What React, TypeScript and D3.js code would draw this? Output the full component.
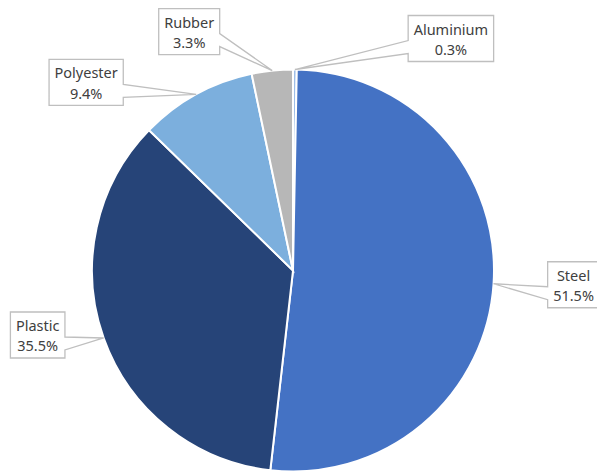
import React from "react";
import * as d3 from "d3";

const categories = ["Aluminium", "Steel", "Plastic", "Polyester", "Rubber"];
const shares = [0.3, 51.5, 35.5, 9.4, 3.3];
const valueLabels = ["0.3%", "51.5%", "35.5%", "9.4%", "3.3%"];
const colors = ["#9EBEE8", "#4472C4", "#264478", "#7CAFDD", "#B7B7B7"];

// where each callout box sits, relative to the point it points at
const calloutOffsets: [number, number][] = [
  [156, -31],
  [80, 1],
  [-66, -3],
  [-110, -12],
  [-83, -39],
];

const width = 597;
const height = 472;
const cx = 293;
const cy = 270.5;
const radius = 201;
const fontSize = 14.5;
const font = "Noto Sans";

function textWidth(s: string): number {
  const ctx = document.createElement("canvas").getContext("2d");
  if (!ctx) return s.length * 7;
  ctx.font = fontSize + "px '" + font + "'";
  return ctx.measureText(s).width;
}

function calloutPath(x0: number, y0: number, w: number, h: number, tx: number, ty: number) {
  const x1 = x0 + w, y1 = y0 + h;
  const mid = y0 + h / 2;
  const b0 = Math.min(mid + 2, y1 - 1);
  const b1 = Math.min(mid + 15, y1);
  if (tx < x0) {
    return `M${x0},${y0} L${x1},${y0} L${x1},${y1} L${x0},${y1} L${x0},${b1} L${tx},${ty} L${x0},${b0} Z`;
  }
  return `M${x0},${y0} L${x1},${y0} L${x1},${b0} L${tx},${ty} L${x1},${b1} L${x1},${y1} L${x0},${y1} Z`;
}

export default function App() {
  const pie = d3.pie<number>().sort(null).value((d) => d)(shares);
  const arc = d3.arc<d3.PieArcDatum<number>>().innerRadius(0).outerRadius(radius);

  return (
    <svg
      width={width}
      height={height}
      style={{ position: "absolute", left: 0, top: 0, background: "#fff" }}
      fontFamily={font}
      fontSize={fontSize}
    >
      <g transform={`translate(${cx},${cy})`}>
        {pie.map((p, i) => (
          <path key={i} d={arc(p) || ""} fill={colors[i]} stroke="#fff" strokeWidth={2} />
        ))}
      </g>
      {pie.map((p, i) => {
        const a = (p.startAngle + p.endAngle) / 2;
        const ax = cx + radius * Math.sin(a);
        const ay = cy - radius * Math.cos(a);
        const w = Math.max(textWidth(categories[i]), textWidth(valueLabels[i])) + 11;
        const h = 46;
        const bx = ax + calloutOffsets[i][0] - w / 2;
        const by = ay + calloutOffsets[i][1] - h / 2;
        const mx = bx + w / 2;
        const my = by + h / 2;
        return (
          <g key={"c" + i}>
            <path d={calloutPath(bx, by, w, h, ax, ay)} fill="#fff" stroke="#BFBFBF" strokeWidth={1.3} />
            <text x={mx} y={my - 4} textAnchor="middle" fill="#404040">
              {categories[i]}
            </text>
            <text x={mx} y={my + 16.5} textAnchor="middle" fill="#404040">
              {valueLabels[i]}
            </text>
          </g>
        );
      })}
    </svg>
  );
}
